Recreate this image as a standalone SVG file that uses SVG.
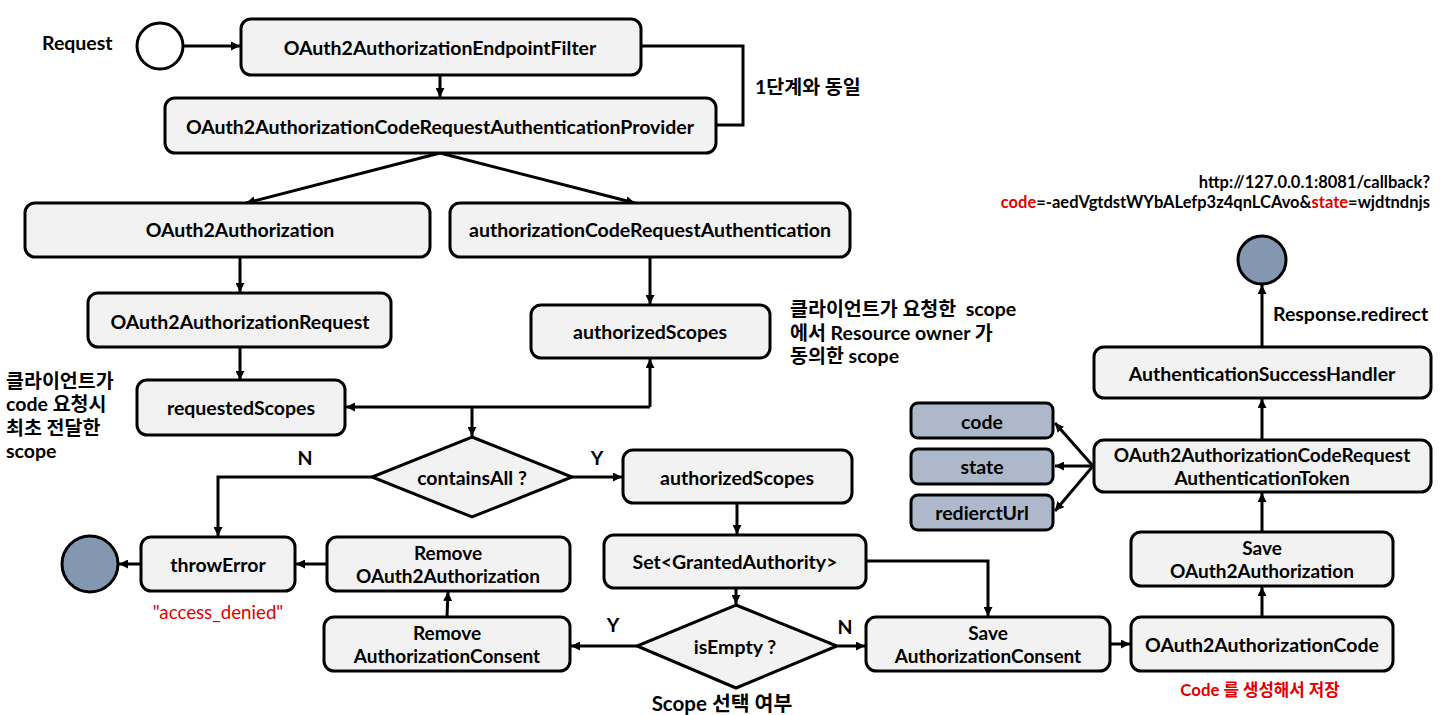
<svg xmlns="http://www.w3.org/2000/svg" width="1441" height="715" viewBox="0 0 1441 715">
<defs>
<marker id="ah" viewBox="0 0 10 10" refX="10" refY="5" markerWidth="9" markerHeight="9" markerUnits="userSpaceOnUse" orient="auto">
<path d="M0,0 L10,5 L0,10 z" fill="#000"/>
</marker>
</defs>
<style>
.box{fill:#F2F2F2;stroke:#000;stroke-width:3}
.dark{fill:#ADB9CA;stroke:#000;stroke-width:3}
.end{fill:#8497B0;stroke:#000;stroke-width:3}
.t{font-family:Lato,"Noto Sans CJK KR",sans-serif;font-weight:bold;font-size:19.5px;fill:#000;text-anchor:middle;dominant-baseline:central}
.l{font-family:Lato,"Noto Sans CJK KR",sans-serif;font-weight:bold;font-size:19.5px;fill:#000;dominant-baseline:central}
.two{font-size:19px}
.c{fill:none;stroke:#000;stroke-width:3}
.a{fill:none;stroke:#000;stroke-width:3;marker-end:url(#ah)}
.red{fill:#E00000}
</style>
<rect width="1441" height="715" fill="#fff"/>

<g id="connectors">
<path class="a" d="M183,46 L240,46"/>
<path class="a" d="M440,75 L440,97"/>
<path class="c" d="M641,46 L743,46 L743,125 L716,125"/>
<path class="a" d="M440,153 L246,203"/>
<path class="a" d="M440,153 L635,203"/>
<path class="a" d="M240,257 L240,292"/>
<path class="a" d="M240,347 L240,380"/>
<path class="a" d="M650,257 L650,304"/>
<path class="a" d="M650,407 L346,407"/>
<path class="a" d="M650,407 L650,359"/>
<path class="a" d="M472,407 L472,436"/>
<path class="a" d="M372,477 L218,477 L218,536"/>
<path class="a" d="M572,477 L622,477"/>
<path class="a" d="M737,503 L737,534"/>
<path class="a" d="M736,588 L736,604"/>
<path class="a" d="M866,561 L988,561 L988,616"/>
<path class="a" d="M838,646 L865,646"/>
<path class="a" d="M637,646 L571,646"/>
<path class="a" d="M447,617 L448,592"/>
<path class="a" d="M327,564 L296,564"/>
<path class="a" d="M141,564 L119,564"/>
<path class="a" d="M1110,644 L1130,644"/>
<path class="a" d="M1262,617 L1262,587"/>
<path class="a" d="M1262,532 L1262,493"/>
<path class="a" d="M1093,466 L1055,423"/>
<path class="a" d="M1093,466 L1055,466"/>
<path class="a" d="M1093,466 L1055,511"/>
<path class="a" d="M1262,440 L1262,399"/>
<path class="a" d="M1262,347 L1262,285"/>
</g>

<g id="request-label"><text class="l" x="42" y="42">Request</text></g>
<g id="start"><circle cx="160" cy="46" r="23" fill="#fff" stroke="#000" stroke-width="3"/></g>

<g id="endpointFilter"><rect class="box" x="241" y="19" width="400" height="56" rx="10"/><text class="t" x="440" y="47">OAuth2AuthorizationEndpointFilter</text></g>
<g id="provider"><rect class="box" x="165" y="98" width="551" height="55" rx="10"/><text class="t" x="440" y="126">OAuth2AuthorizationCodeRequestAuthenticationProvider</text></g>
<g id="same-label"><text class="l" x="755" y="86">1단계와 동일</text></g>

<g id="oauth2Authorization"><rect class="box" x="25" y="203" width="405" height="54" rx="10"/><text class="t" x="240" y="229">OAuth2Authorization</text></g>
<g id="authCodeReqAuth"><rect class="box" x="450" y="203" width="400" height="54" rx="10"/><text class="t" x="650" y="229">authorizationCodeRequestAuthentication</text></g>
<g id="oauth2AuthorizationRequest"><rect class="box" x="88" y="293" width="303" height="54" rx="10"/><text class="t" x="240" y="321">OAuth2AuthorizationRequest</text></g>
<g id="authorizedScopes1"><rect class="box" x="531" y="305" width="239" height="53" rx="10"/><text class="t" x="650" y="331">authorizedScopes</text></g>
<g id="requestedScopes"><rect class="box" x="137" y="380" width="208" height="55" rx="10"/><text class="t" x="241" y="407">requestedScopes</text></g>

<g id="note-left">
<text class="l" x="6" y="380">클라이언트가</text>
<text class="l" x="6" y="403.5">code 요청시</text>
<text class="l" x="6" y="427">최초 전달한</text>
<text class="l" x="6" y="450.5">scope</text>
</g>
<g id="note-right">
<text class="l" x="790" y="308.5" xml:space="preserve">클라이언트가 요청한  scope</text>
<text class="l" x="790" y="332">에서 Resource owner 가</text>
<text class="l" x="790" y="355.5">동의한 scope</text>
</g>

<g id="containsAll"><polygon class="box" points="472,437 572,477 472,517 372,477"/><text class="t" x="472" y="477">containsAll ?</text></g>
<g id="labels-yn1"><text class="t" x="305" y="457">N</text><text class="t" x="597" y="457">Y</text></g>

<g id="authorizedScopes2"><rect class="box" x="623" y="450" width="229" height="53" rx="10"/><text class="t" x="737" y="477">authorizedScopes</text></g>
<g id="grantedAuthority"><rect class="box" x="604" y="535" width="262" height="53" rx="10"/><text class="t" x="735" y="561">Set&lt;GrantedAuthority&gt;</text></g>
<g id="isEmpty"><polygon class="box" points="736,605 837,646 736,688 637,646"/><text class="t" x="735" y="646">isEmpty ?</text></g>
<g id="labels-yn2"><text class="t" x="613" y="624">Y</text><text class="t" x="845" y="626">N</text></g>
<g id="scope-select"><text class="t" style="font-size:20.5px" x="722" y="703">Scope 선택 여부</text></g>

<g id="removeConsent"><rect class="box" x="324" y="617" width="246" height="54" rx="10"/><text class="t two" x="447" y="632.5">Remove</text><text class="t two" x="447" y="655.5">AuthorizationConsent</text></g>
<g id="removeAuthorization"><rect class="box" x="327" y="537" width="243" height="54" rx="10"/><text class="t two" x="448" y="552.5">Remove</text><text class="t two" x="448" y="575.5">OAuth2Authorization</text></g>
<g id="throwError"><rect class="box" x="141" y="537" width="154" height="54" rx="10"/><text class="t" x="218" y="564">throwError</text></g>
<g id="end-left"><circle class="end" cx="90" cy="564" r="28"/></g>
<g id="access-denied"><text class="t red" style="font-weight:normal;font-size:18.7px" x="218" y="612">"access_denied"</text></g>

<g id="saveConsent"><rect class="box" x="866" y="617" width="244" height="54" rx="10"/><text class="t two" x="988" y="632.5">Save</text><text class="t two" x="988" y="655.5">AuthorizationConsent</text></g>
<g id="authorizationCode"><rect class="box" x="1131" y="617" width="262" height="54" rx="10"/><text class="t" x="1262" y="644">OAuth2AuthorizationCode</text></g>
<g id="code-note"><text class="t red" style="font-size:16.8px" x="1260" y="689">Code 를 생성해서 저장</text></g>
<g id="saveAuthorization"><rect class="box" x="1131" y="532" width="262" height="54" rx="10"/><text class="t two" x="1262" y="547.5">Save</text><text class="t two" x="1262" y="570.5">OAuth2Authorization</text></g>
<g id="token"><rect class="box" x="1094" y="440" width="337" height="52" rx="10"/><text class="t two" x="1262" y="454.5">OAuth2AuthorizationCodeRequest</text><text class="t two" x="1262" y="477.5">AuthenticationToken</text></g>
<g id="code"><rect class="dark" x="911" y="403" width="142" height="35" rx="7"/><text class="t" x="982" y="421">code</text></g>
<g id="state"><rect class="dark" x="911" y="449" width="142" height="35" rx="7"/><text class="t" x="982" y="466">state</text></g>
<g id="redirectUrl"><rect class="dark" x="911" y="495" width="142" height="35" rx="7"/><text class="t" x="982" y="512">redierctUrl</text></g>
<g id="successHandler"><rect class="box" x="1094" y="347" width="337" height="51" rx="10"/><text class="t" x="1262" y="373">AuthenticationSuccessHandler</text></g>
<g id="end-right"><circle class="end" cx="1262" cy="260" r="24"/></g>
<g id="redirect-label"><text class="l" x="1273" y="313">Response.redirect</text></g>
<g id="url">
<text class="l" x="1430" y="181.5" text-anchor="end" style="font-size:16.5px">http://127.0.0.1:8081/callback?</text>
<text class="l" x="1430" y="201.5" text-anchor="end" style="font-size:16.5px"><tspan class="red">code</tspan>=-aedVgtdstWYbALefp3z4qnLCAvo&amp;<tspan class="red">state</tspan>=wjdtndnjs</text>
</g>
</svg>
